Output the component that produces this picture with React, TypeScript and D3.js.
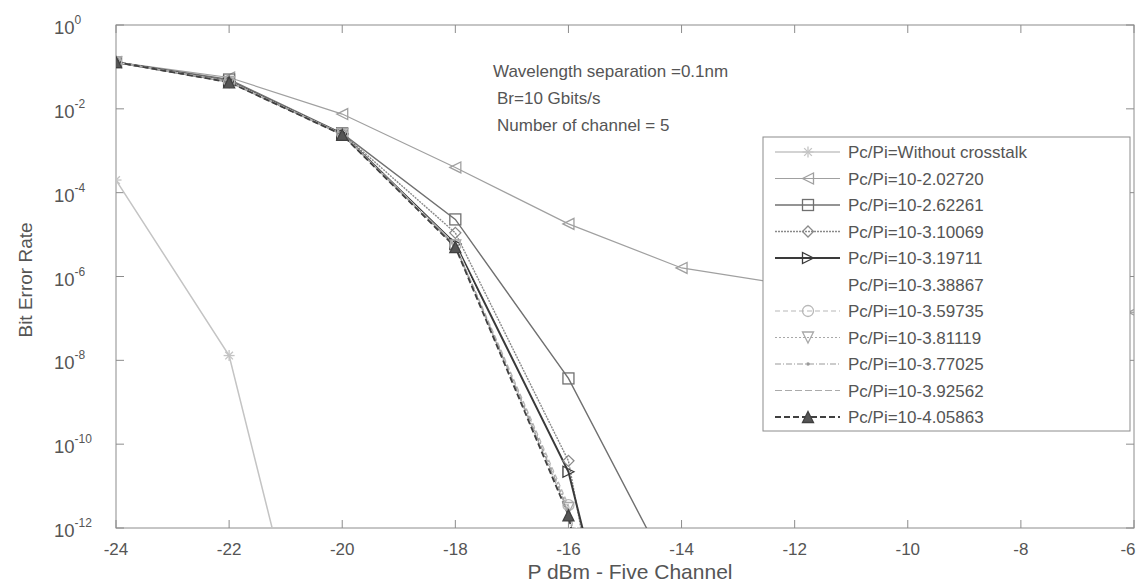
import * as d3 from 'd3';
import React from 'react';

// received power (dBm) and bit error rate
const power = [-24, -22, -20, -18, -16, -14, -12, -10, -8, -6];
const xTicks = [-24, -22, -20, -18, -16, -14, -12, -10, -8, -6];
const yTickExps = [0, -2, -4, -6, -8, -10, -12];

const berNoCrosstalk = [2e-4, 1.3e-8, 2e-19];
const ber2_02720 = [0.13, 0.056, 7.5e-3, 4e-4, 1.8e-5, 1.6e-6, 6e-7, 3.2e-7, 2e-7, 1.4e-7];
const ber2_62261 = [0.13, 0.05, 2.6e-3, 2.3e-5, 3.7e-9, 2.5e-14];
const ber3_10069 = [0.13, 0.046, 2.6e-3, 1.1e-5, 4e-11, 1e-25];
const ber3_19711 = [0.13, 0.045, 2.5e-3, 6e-6, 2.2e-11, 3e-22];
const ber3_38867 = [0.13, 0.045, 2.5e-3, 5.8e-6, 8e-12, 1e-24];
const ber3_59735 = [0.13, 0.044, 2.5e-3, 5.6e-6, 3.5e-12, 1e-24];
const ber3_81119 = [0.13, 0.044, 2.5e-3, 5.5e-6, 3e-12, 1e-24];
const ber3_77025 = [0.13, 0.044, 2.5e-3, 5.4e-6, 2.6e-12, 1e-24];
const ber3_92562 = [0.13, 0.043, 2.4e-3, 5.2e-6, 2.3e-12, 1e-24];
const ber4_05863 = [0.13, 0.043, 2.4e-3, 5e-6, 2e-12, 1e-25];

const labels = [
  'Pc/Pi=Without crosstalk',
  'Pc/Pi=10-2.02720',
  'Pc/Pi=10-2.62261',
  'Pc/Pi=10-3.10069',
  'Pc/Pi=10-3.19711',
  'Pc/Pi=10-3.38867',
  'Pc/Pi=10-3.59735',
  'Pc/Pi=10-3.81119',
  'Pc/Pi=10-3.77025',
  'Pc/Pi=10-3.92562',
  'Pc/Pi=10-4.05863',
];
const values = [
  berNoCrosstalk, ber2_02720, ber2_62261, ber3_10069, ber3_19711, ber3_38867,
  ber3_59735, ber3_81119, ber3_77025, ber3_92562, ber4_05863,
];

type Style = { color: string; width: number; dash: string; marker: string; fill: string };
const styles: Style[] = [
  { color: '#c4c4c4', width: 1.5, dash: '', marker: 'star', fill: 'none' },
  { color: '#a0a0a0', width: 1.2, dash: '', marker: 'triLeft', fill: 'none' },
  { color: '#707070', width: 1.4, dash: '', marker: 'square', fill: 'none' },
  { color: '#8a8a8a', width: 1.4, dash: '2,1', marker: 'diamond', fill: 'none' },
  { color: '#3a3a3a', width: 2, dash: '', marker: 'triRight', fill: 'none' },
  { color: '#ffffff', width: 1, dash: '', marker: 'none', fill: 'none' },
  { color: '#b8b8b8', width: 1.2, dash: '5,3', marker: 'circle', fill: 'none' },
  { color: '#a8a8a8', width: 1.2, dash: '2,2', marker: 'triDown', fill: 'none' },
  { color: '#999999', width: 1.2, dash: '6,2,1,2', marker: 'point', fill: 'none' },
  { color: '#aaaaaa', width: 1.2, dash: '7,3', marker: 'none', fill: 'none' },
  { color: '#404040', width: 1.8, dash: '6,3', marker: 'triUp', fill: '#555' },
];

const W = 1140;
const H = 583;
const left = 116, right = 1134, top = 25, bottom = 528;

const x = d3.scaleLinear().domain([-24, -6]).range([left, right]);
const y = d3.scaleLog().domain([1e-12, 1]).range([bottom, top]);

function Marker({ type, cx, cy, color, fill }: { type: string; cx: number; cy: number; color: string; fill: string }) {
  const s = 5.5;
  const common = { stroke: color, strokeWidth: 1.3, fill };
  switch (type) {
    case 'star':
      return (
        <g stroke={color} strokeWidth={1.3}>
          <line x1={cx - s} y1={cy} x2={cx + s} y2={cy} />
          <line x1={cx} y1={cy - s} x2={cx} y2={cy + s} />
          <line x1={cx - s * 0.7} y1={cy - s * 0.7} x2={cx + s * 0.7} y2={cy + s * 0.7} />
          <line x1={cx - s * 0.7} y1={cy + s * 0.7} x2={cx + s * 0.7} y2={cy - s * 0.7} />
        </g>
      );
    case 'square':
      return <rect x={cx - s} y={cy - s} width={2 * s} height={2 * s} {...common} />;
    case 'diamond':
      return <polygon points={`${cx},${cy - s} ${cx + s},${cy} ${cx},${cy + s} ${cx - s},${cy}`} {...common} />;
    case 'circle':
      return <circle cx={cx} cy={cy} r={s} {...common} />;
    case 'point':
      return <circle cx={cx} cy={cy} r={1.8} fill={color} />;
    case 'triUp':
      return <polygon points={`${cx},${cy - s} ${cx + s},${cy + s} ${cx - s},${cy + s}`} {...common} />;
    case 'triDown':
      return <polygon points={`${cx},${cy + s} ${cx + s},${cy - s} ${cx - s},${cy - s}`} {...common} />;
    case 'triLeft':
      return <polygon points={`${cx - s},${cy} ${cx + s},${cy - s} ${cx + s},${cy + s}`} {...common} />;
    case 'triRight':
      return <polygon points={`${cx + s},${cy} ${cx - s},${cy - s} ${cx - s},${cy + s}`} {...common} />;
    default:
      return null;
  }
}

export default function App() {
  const line = d3.line<number>()
    .x((_, i) => x(power[i]))
    .y((d) => y(d));

  const textColor = '#555';
  const axisColor = '#8c8c8c';
  const font = 'Liberation Sans, Arial, sans-serif';

  const legX = 763, legY = 137, legW = 1130 - 763, legH = 294;
  const rowH = 26.5;

  return (
    <svg width={W} height={H} style={{ position: 'absolute', left: 0, top: 0, background: '#fff' }} fontFamily={font}>
      <defs>
        <clipPath id="plot">
          <rect x={left} y={top} width={right - left} height={bottom - top} />
        </clipPath>
      </defs>

      {/* box and ticks */}
      <rect x={left} y={top} width={right - left} height={bottom - top} fill="none" stroke={axisColor} strokeWidth={1} />
      {xTicks.map((t) => (
        <g key={'xt' + t} stroke={axisColor}>
          <line x1={x(t)} x2={x(t)} y1={bottom} y2={bottom - 8} />
          <line x1={x(t)} x2={x(t)} y1={top} y2={top + 8} />
        </g>
      ))}
      {yTickExps.map((e) => (
        <g key={'yt' + e} stroke={axisColor}>
          <line x1={left} x2={left + 8} y1={y(10 ** e)} y2={y(10 ** e)} />
          <line x1={right} x2={right - 8} y1={y(10 ** e)} y2={y(10 ** e)} />
        </g>
      ))}

      {/* tick labels */}
      {xTicks.map((t) => (
        <text key={'xl' + t} x={Math.min(x(t), W - 12)} y={bottom + 27} textAnchor="middle" fontSize={17} fill={textColor}>
          {t}
        </text>
      ))}
      {yTickExps.map((e) => (
        <text key={'yl' + e} x={54} y={y(10 ** e) + 9} fontSize={18.5} fill={textColor}>
          10
          <tspan dy={-10} fontSize={12}>{e}</tspan>
        </text>
      ))}

      {/* axis titles */}
      <text x={630} y={579} textAnchor="middle" fontSize={21} fill={textColor}>P dBm - Five Channel</text>
      <text transform="translate(32,280) rotate(-90)" textAnchor="middle" fontSize={19} fill={textColor}>Bit Error Rate</text>

      {/* annotations */}
      <text x={493} y={77} fontSize={17} fill={textColor}>Wavelength separation =0.1nm</text>
      <text x={497} y={104} fontSize={17} fill={textColor}>Br=10 Gbits/s</text>
      <text x={497} y={131} fontSize={17} fill={textColor}>Number of channel = 5</text>

      {/* curves */}
      <g clipPath="url(#plot)">
        {values.map((v, k) => (
          <path key={'c' + k} d={line(v) || ''} fill="none" stroke={styles[k].color}
            strokeWidth={styles[k].width} strokeDasharray={styles[k].dash} />
        ))}
        {values.map((v, k) =>
          v.map((d, i) => (
            <Marker key={`m${k}-${i}`} type={styles[k].marker} cx={x(power[i])} cy={y(d)}
              color={styles[k].color} fill={styles[k].fill} />
          ))
        )}
      </g>

      {/* legend */}
      <rect x={legX} y={legY} width={legW} height={legH} fill="#fff" stroke={axisColor} strokeWidth={1} />
      {labels.map((lab, k) => {
        const cy = legY + 15 + k * rowH;
        const st = styles[k];
        return (
          <g key={'lg' + k}>
            <line x1={775} x2={840} y1={cy} y2={cy} stroke={st.color} strokeWidth={st.width} strokeDasharray={st.dash} />
            <Marker type={st.marker} cx={808} cy={cy} color={st.color} fill={st.fill} />
            <text x={848} y={cy + 6} fontSize={17} fill={textColor}>{lab}</text>
          </g>
        );
      })}
    </svg>
  );
}
